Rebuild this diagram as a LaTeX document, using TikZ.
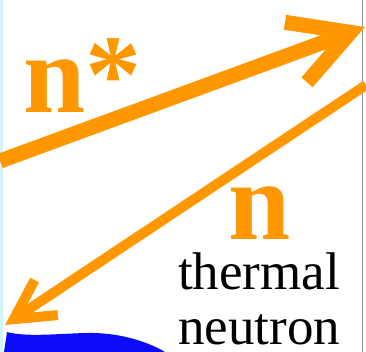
\documentclass[tikz,border=0pt]{standalone}
\usepackage{fontspec}
\setmainfont{Liberation Serif}
\usetikzlibrary{arrows.meta}
\definecolor{nuorange}{RGB}{255,152,0}
\definecolor{nublue}{RGB}{12,12,250}
\definecolor{nucyan}{RGB}{212,244,252}
\definecolor{nugray}{RGB}{150,150,150}

\begin{document}
\begin{tikzpicture}[x=1pt,y=-1pt]
  \useasboundingbox (0,0) rectangle (366,352);
  % Frame edges
  \fill[nucyan] (0,0) rectangle (3,352);
  \fill[nugray] (361.5,0) rectangle (363,352);
  % Blue surface at the bottom
  \fill[nublue] (7,332) .. controls (25,337) and (55,334) .. (85,333)
    .. controls (115,332) and (145,340) .. (165,352) -- (4,352) -- cycle;
  % Arrows
  \coordinate (nsIn) at (0,161);
  \coordinate (nsOut) at (365,27);
  \coordinate (nIn) at (366,85);
  \coordinate (nOut) at (5,325);
  \draw[nuorange,line width=15pt,-{Straight Barb[length=58pt,width=64pt]}] (nsIn) -- (nsOut);
  \draw[nuorange,line width=10pt,-{Straight Barb[length=39pt,width=42pt]}] (nIn) -- (nOut);
  % Labels
  \node[font=\fontsize{112}{112}\selectfont\bfseries,nuorange,anchor=base west,inner sep=0] (nstar) at (23,113) {n*};
  \node[font=\fontsize{112}{112}\selectfont\bfseries,nuorange,anchor=base west,inner sep=0] (nlabel) at (228,240) {n};
  \node[font=\fontsize{53}{55}\selectfont,anchor=base west,inner sep=0,align=left] (thermal) at (178,344) {thermal\\neutron};
\end{tikzpicture}
\end{document}
